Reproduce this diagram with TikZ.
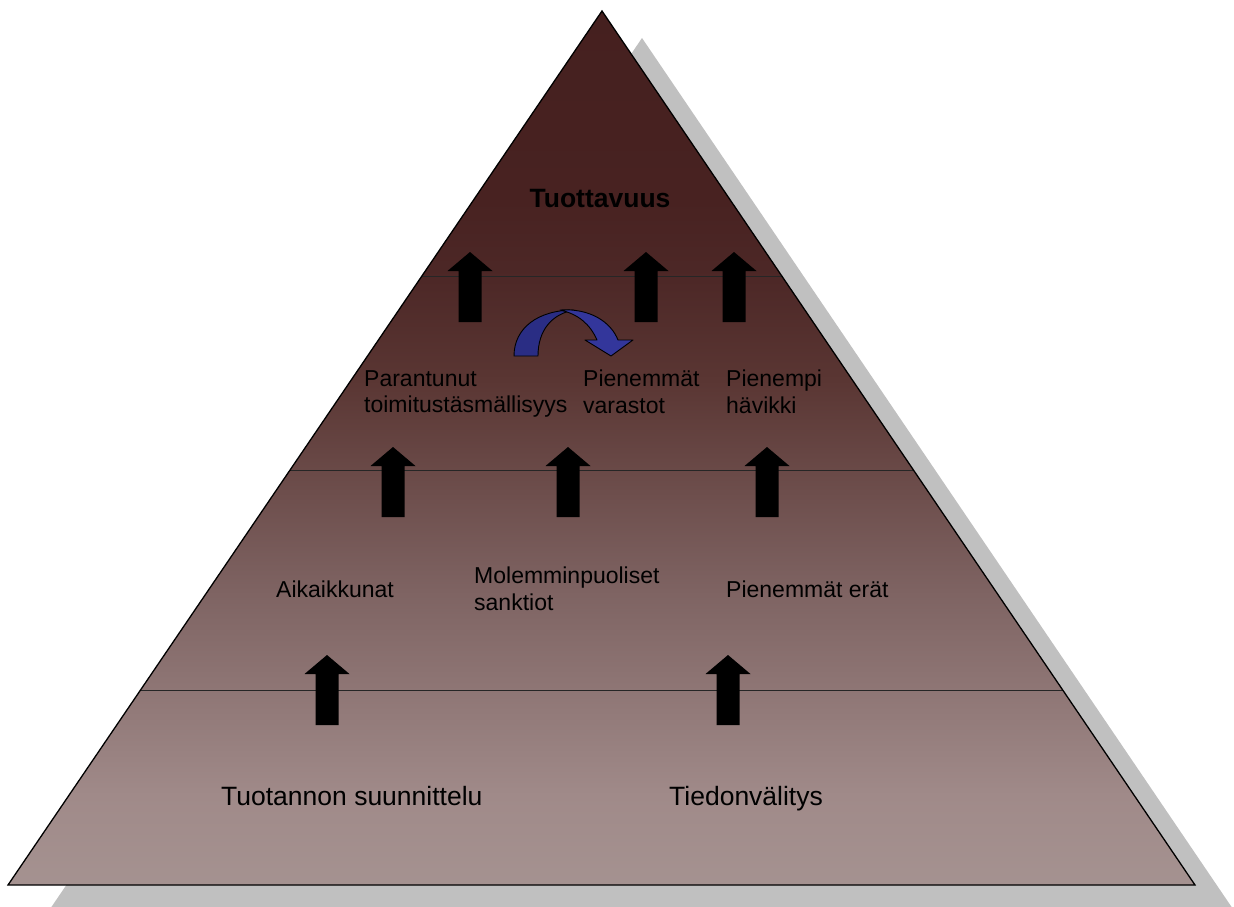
\documentclass[tikz,border=0pt]{standalone}
\usepackage{fontspec}
\setmainfont{Liberation Sans}
\usetikzlibrary{calc}
\begin{document}
\begin{tikzpicture}[x=1pt,y=-1pt,
  edge/.style={line width=1.3pt, draw=black, line join=miter},
  level/.style={line width=1pt, draw=black!85},
  lbl/.style={anchor=north west, inner sep=0pt, align=left, font=\fontsize{23}{26.5}\selectfont},
  big/.style={inner sep=0pt, anchor=base west, font=\fontsize{26.5}{30}\selectfont},
  band/.style={draw=black, line width=0.9pt, line join=round},
  uparrow/.pic={\fill[black] (0,0) -- (22.5,19) -- (11.5,19) -- (11.5,70)
      -- (-11.5,70) -- (-11.5,19) -- (-22.5,19) -- cycle;}
]
\useasboundingbox (0,0) rectangle (1234,907);

% colours of the vertical gradient
\definecolor{g0}{RGB}{69,32,31}
\definecolor{g1}{RGB}{72,34,33}
\definecolor{g2}{RGB}{77,40,39}
\definecolor{g3}{RGB}{90,54,51}
\definecolor{g4}{RGB}{126,99,98}
\definecolor{g5}{RGB}{160,138,137}
\definecolor{g6}{RGB}{166,148,146}
\definecolor{shadowgray}{RGB}{192,192,192}
\definecolor{bandback}{RGB}{42,45,132}
\definecolor{bandfront}{RGB}{51,54,155}

% corners of the pyramid
\coordinate (apex) at (602,11);
\coordinate (bl) at (8,885);
\coordinate (br) at (1195,885);

% drop shadow
\fill[shadowgray] ($(apex)+(40,27)$) -- ($(br)+(40,27)$) -- ($(bl)+(40,27)$) -- cycle;

% gradient body
\begin{scope}
  \clip (apex) -- (br) -- (bl) -- cycle;
  \shade[top color=g0, bottom color=g1] (0,0) rectangle (1234,200.5);
  \shade[top color=g1, bottom color=g2] (0,200) rectangle (1234,280.5);
  \shade[top color=g2, bottom color=g3] (0,280) rectangle (1234,380.5);
  \shade[top color=g3, bottom color=g4] (0,380) rectangle (1234,590.5);
  \shade[top color=g4, bottom color=g5] (0,590) rectangle (1234,795.5);
  \shade[top color=g5, bottom color=g6] (0,795) rectangle (1234,907);
\end{scope}

% level separators
\draw[level] ($(apex)!0.3032!(bl)$) -- ($(apex)!0.3032!(br)$);
\draw[level] ($(apex)!0.5252!(bl)$) -- ($(apex)!0.5252!(br)$);
\draw[level] ($(apex)!0.7769!(bl)$) -- ($(apex)!0.7769!(br)$);

% outline
\draw[edge] (apex) -- (br) -- (bl) -- cycle;

% upward block arrows
\pic at (470,252) {uparrow};
\pic at (646,252) {uparrow};
\pic at (734,252) {uparrow};
\pic at (393,447) {uparrow};
\pic at (568,447) {uparrow};
\pic at (767,447) {uparrow};
\pic at (327,655) {uparrow};
\pic at (728,655) {uparrow};

% curved arrow between the upper labels
\filldraw[band, fill=bandback] (514,356) .. controls (514,328) and (538,310) .. (574,310)
  .. controls (552,314) and (538,330) .. (538,356) -- cycle;
\filldraw[band, fill=bandfront] (560,310) .. controls (590,308) and (611,322) .. (618,340)
  -- (633,340) -- (611,356) -- (585,340) -- (597,340)
  .. controls (590,324) and (578,314) .. (560,310) -- cycle;

% labels
\node[big, font=\fontsize{26.5}{30}\selectfont\bfseries, anchor=base] (top) at (600,207) {Tuottavuus};
\node[lbl] (acc) at (364,370) {Parantunut\\toimitustäsmällisyys};
\node[lbl] (inv) at (583,370) {Pienemmät\\varastot};
\node[lbl] (waste) at (726,370) {Pienempi\\hävikki};
\node[lbl] (win) at (276,581) {Aikaikkunat};
\node[lbl] (sanc) at (474,567) {Molemminpuoliset\\sanktiot};
\node[lbl] (lots) at (726,581) {Pienemmät erät};
\node[big] (plan) at (221,805) {Tuotannon suunnittelu};
\node[big] (info) at (669,805) {Tiedonvälitys};
\end{tikzpicture}
\end{document}
